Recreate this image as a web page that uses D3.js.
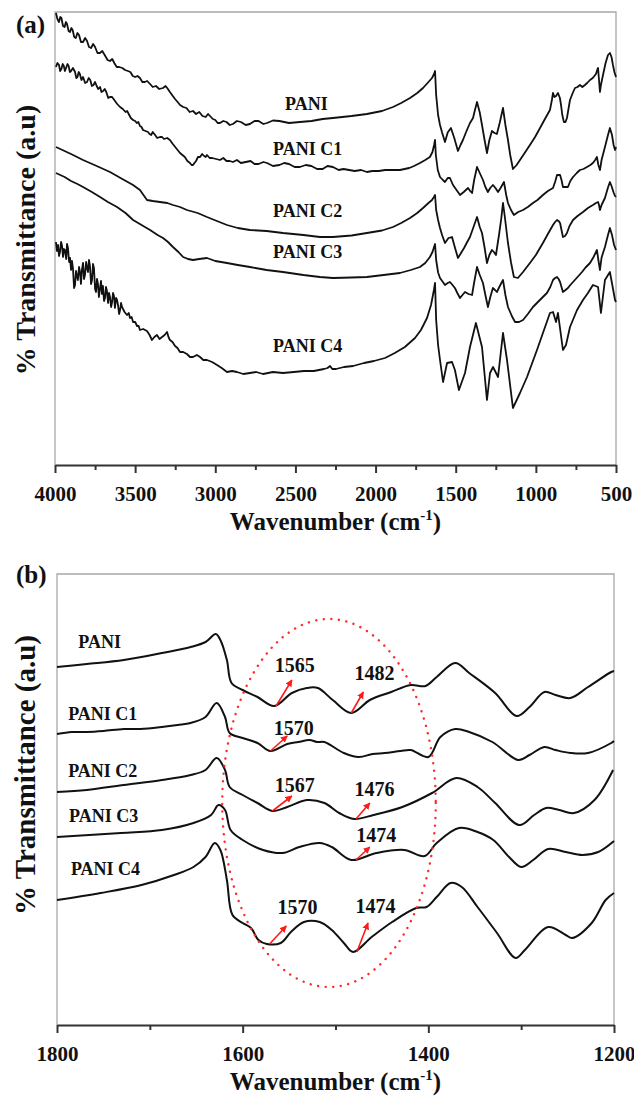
<!DOCTYPE html>
<html><head><meta charset="utf-8">
<script src="https://cdn.jsdelivr.net/npm/d3@7"></script>
<style>
body{margin:0;background:#fff}
text{font-family:"Liberation Serif","Times New Roman",serif;font-weight:bold;fill:#111}
</style>
</head><body>
<svg id="c" width="634" height="1099"></svg>
<script>
// ---------- DATA ----------
const seriesNames = ["PANI", "PANI C1", "PANI C2", "PANI C3", "PANI C4"];

const ticksA = [4000, 3500, 3000, 2500, 2000, 1500, 1000, 500];
const minorTicksA = [3750, 3250, 2750, 2250, 1750, 1250, 750];
const ticksB = [1800, 1600, 1400, 1200];
const minorTicksB = [1700, 1500, 1300];

// Panel (a): [wavenumber cm-1, transmittance a.u.]
const specA_PANI = [[3994,90.4],[3985,89.2],[3975,88.6],[3967,89.6],[3960,89.4],[3950,87.8],[3940,87.6],[3932,88.6],[3925,88.2],[3915,86.8],[3906,86.6],[3898,87.4],[3890,87],[3880,85.6],[3870,85.4],[3860,86.4],[3850,86],[3838,84.6],[3825,84.6],[3812,85.4],[3800,84.8],[3788,83.6],[3775,83.4],[3762,84.2],[3750,83.6],[3735,82.4],[3720,82.4],[3705,82.8],[3690,82],[3672,81],[3657,80.8],[3643,81.2],[3630,80.4],[3615,79.6],[3600,79.6],[3580,79.4],[3563,79],[3545,78.8],[3530,78.6],[3515,77.8],[3500,77.6],[3485,77.8],[3470,77.4],[3455,76.6],[3440,76.6],[3425,76.8],[3407,76.2],[3390,75.6],[3370,75.8],[3350,75.2],[3326,75.4],[3310,75.8],[3300,75.4],[3283,74.6],[3265,73.8],[3251,73.2],[3235,72.6],[3220,72],[3200,71.6],[3180,71.4],[3160,70.6],[3139,70.8],[3120,70.2],[3100,70.6],[3080,69.8],[3060,69.6],[3045,70.2],[3033,69.8],[3015,69.2],[3000,69],[2985,68.4],[2971,68.4],[2950,68.8],[2930,68.6],[2910,68],[2890,68.2],[2865,68.8],[2840,68.6],[2810,68],[2784,68.2],[2755,68.8],[2730,68.8],[2700,68.2],[2677,68.4],[2640,68.9],[2600,68.8],[2540,68.4],[2472,68.6],[2400,68.8],[2330,69.2],[2266,69.4],[2150,69.8],[2054,70.2],[1960,70.8],[1891,71.6],[1840,72.4],[1785,73.4],[1740,74.4],[1704,75.4],[1670,76.6],[1648,77.4],[1635,78.2],[1629,78.8],[1622,74],[1610,70],[1598,68],[1585,66.5],[1567,64.6],[1550,66.5],[1530,67.4],[1510,65.5],[1486,62.8],[1470,64],[1455,65],[1430,67],[1411,68.4],[1392,69.4],[1380,71],[1367,72.6],[1350,70.5],[1336,68],[1320,65],[1305,62.4],[1290,65],[1274,66.8],[1258,66.4],[1243,66.2],[1225,68.5],[1205,71.4],[1190,68],[1174,65],[1160,62],[1143,59.2],[1120,60],[1099,61],[1070,62.4],[1037,64],[1005,65.6],[974,67.4],[940,69.4],[912,71],[900,73],[893,74.4],[884,73.6],[874,73.8],[862,74.4],[850,73.4],[843,72],[835,70],[825,68.6],[815,68.6],[806,69.4],[795,71.5],[787,73],[770,74.4],[756,75.4],[740,75.6],[725,76],[710,75.6],[694,76],[680,76.4],[662,77],[645,77.4],[625,78.2],[615,79.2],[612,79.4],[606,77],[600,74.6],[594,76],[581,78],[565,80.4],[550,82],[538,82.4],[528,81.6],[519,80],[510,78.6],[500,77.6]];

const specA_C1 = [[3994,79.6],[3985,80.4],[3975,80],[3968,78.8],[3960,79.2],[3952,80.2],[3945,79.8],[3938,78.8],[3931,79.4],[3922,80.2],[3915,79.8],[3907,78.6],[3900,78.8],[3888,79.4],[3875,78.6],[3867,77.4],[3860,77.6],[3852,78.6],[3845,78.2],[3835,77],[3825,77.6],[3812,76.4],[3800,76.6],[3790,77.4],[3780,77],[3770,75.8],[3760,76],[3750,76.6],[3740,75.8],[3730,75.2],[3719,75.6],[3710,74.6],[3700,74.8],[3690,75.2],[3680,74.6],[3668,73.4],[3657,73.6],[3644,73.6],[3630,73],[3612,72.2],[3594,71.6],[3577,71.2],[3560,70.6],[3550,70.8],[3540,70.2],[3527,69.4],[3513,69],[3500,68.8],[3490,68.4],[3480,68.6],[3470,67.8],[3460,67.6],[3451,67],[3435,66.8],[3420,66.6],[3410,66.2],[3400,66],[3390,66.6],[3380,66.2],[3362,65.4],[3345,65.6],[3332,65.6],[3320,65.2],[3300,65.4],[3283,65],[3265,64.2],[3250,63.6],[3235,63],[3220,62.4],[3205,62],[3190,61.6],[3174,60.8],[3158,60.4],[3148,60],[3139,60],[3130,60.4],[3120,60.8],[3108,61.6],[3095,61.6],[3082,62.2],[3070,61.8],[3060,61.6],[3052,62],[3035,61.4],[3020,61.4],[2995,61.2],[2971,61],[2950,61.4],[2930,60.8],[2910,60.8],[2890,60.6],[2865,61],[2840,60.4],[2810,60.6],[2780,60.8],[2755,60.2],[2730,60.2],[2700,60.6],[2677,60.4],[2640,59.8],[2600,60],[2570,60.4],[2540,60.2],[2505,59.6],[2472,59.6],[2435,60],[2400,59.8],[2365,59.2],[2330,59.2],[2300,59.8],[2266,59.6],[2230,59],[2200,59.2],[2165,59],[2130,58.8],[2090,59],[2054,58.6],[2020,58.8],[1980,58.8],[1940,59],[1900,59],[1848,59],[1790,59.4],[1760,59.8],[1723,60.4],[1690,61],[1661,61.6],[1645,62.6],[1635,64],[1629,65],[1624,62],[1612,59],[1598,57.6],[1580,57],[1567,56.6],[1550,57.4],[1536,57.4],[1517,56],[1495,55],[1473,54],[1450,54.6],[1423,55.4],[1410,54.8],[1398,54.4],[1385,57],[1367,59.6],[1350,58.4],[1330,57],[1315,55.6],[1299,54.6],[1285,55.4],[1268,56],[1252,55.4],[1236,54.6],[1220,55.4],[1199,56.6],[1185,54],[1174,52.4],[1155,51],[1137,50],[1110,50.6],[1080,51],[1050,51.6],[1018,52.4],[990,53],[956,54],[925,54.8],[893,55.4],[880,56.6],[868,58],[858,58],[849,58],[840,57],[831,55.6],[815,55.6],[800,55.6],[785,56.8],[768,57.6],[745,58.4],[725,59],[703,59.2],[681,59.6],[660,60],[644,60.4],[630,61],[619,61.6],[610,60],[600,59],[590,61],[569,63.6],[550,66],[538,67.4],[525,66],[515,64],[506,63],[500,63.6]];

const specA_C2 = [[3994,63.6],[3900,62.2],[3825,61],[3740,59.8],[3657,58.6],[3580,57.2],[3513,56],[3470,55],[3426,53],[3390,52.8],[3345,52.6],[3300,52.4],[3264,52],[3220,51.6],[3177,51],[3110,50.4],[3052,49.6],[2990,48.8],[2927,48],[2860,47.4],[2784,47],[2680,46.8],[2578,46.4],[2450,46],[2347,45.6],[2266,45.6],[2150,45.9],[2054,46.4],[1960,46.9],[1891,47.6],[1840,48.4],[1785,49.4],[1740,50.4],[1704,51.4],[1670,52.4],[1648,53],[1636,53.6],[1629,54],[1622,51],[1610,49],[1598,47.4],[1585,46],[1567,44.4],[1545,45.4],[1523,45.6],[1505,43.5],[1486,41.4],[1465,42.5],[1448,43.4],[1430,44.5],[1411,45.6],[1390,47.5],[1367,49.6],[1350,47.6],[1336,46.4],[1320,43.5],[1305,40.4],[1290,42],[1274,43],[1262,42.6],[1249,42],[1230,46],[1215,49.5],[1205,52.4],[1195,50],[1174,44.4],[1155,40.5],[1137,37.6],[1112,37.4],[1080,38.6],[1037,40.4],[1000,42],[956,44.4],[925,46.2],[893,48],[880,48.6],[868,49],[858,48.8],[849,48.4],[840,47],[831,45.6],[818,45.8],[806,46.4],[790,47.8],[768,49],[740,49.8],[706,50.6],[675,51.4],[644,52],[625,52.4],[612,52.6],[606,52],[600,51],[590,52],[569,53.4],[550,55.5],[538,56.6],[528,55.8],[515,54.5],[506,53.8],[500,53.6]];

const specA_C3 = [[3994,58.4],[3940,57.6],[3900,56.8],[3860,56.2],[3825,55.6],[3770,54.6],[3719,53.6],[3670,52.6],[3613,51.6],[3560,50.4],[3513,49],[3460,48],[3407,47],[3360,46],[3326,45.4],[3295,44.6],[3264,43.6],[3230,42.6],[3201,41.6],[3170,41.2],[3139,41],[3100,41.2],[3052,41.4],[3000,40.8],[2927,40.4],[2860,40],[2784,39.6],[2680,39],[2578,38.6],[2450,38],[2347,37.6],[2266,37.4],[2150,37.5],[2054,37.6],[1950,38],[1848,38.4],[1780,39],[1723,39.6],[1690,40.4],[1661,41.6],[1645,42.6],[1635,43.6],[1629,44.2],[1622,41],[1610,38.5],[1598,37.4],[1580,36.6],[1567,36],[1550,36.4],[1536,36.6],[1520,36],[1505,35.4],[1490,34.4],[1473,33.4],[1458,34],[1442,34.6],[1420,34.2],[1398,34],[1385,36.5],[1367,39.6],[1350,38],[1330,36.4],[1315,34],[1299,31.6],[1285,33.5],[1268,35.4],[1255,35],[1243,34.6],[1225,35.8],[1205,37],[1190,34],[1174,31.6],[1150,29.8],[1130,28.6],[1105,28.6],[1080,29],[1050,30.2],[1018,31.6],[975,33],[931,34.4],[910,35.6],[893,37],[880,37.4],[868,37.6],[858,37.2],[849,36.6],[840,35.6],[831,34.6],[815,35],[800,35.4],[785,36],[768,36.6],[740,37.6],[712,38.6],[690,39.5],[662,40.4],[640,41.6],[619,43],[610,41],[600,39],[590,41.5],[569,43.6],[550,46],[538,47.4],[525,46],[512,44],[500,43]];

const specA_C4 = [[3994,44.6],[3988,42.8],[3981,44],[3975,41.8],[3969,42.6],[3962,44.6],[3956,43.8],[3950,41.6],[3944,43.2],[3938,43],[3930,41.2],[3925,44.2],[3919,43.4],[3912,40.6],[3906,41.4],[3900,39],[3894,40.8],[3888,39.4],[3881,35.4],[3875,36],[3869,38.8],[3863,37.8],[3857,37],[3850,39.6],[3844,38.6],[3838,36.2],[3832,39],[3825,40.4],[3819,37.2],[3813,38],[3806,40.6],[3800,39.4],[3794,38.6],[3788,41],[3782,39.8],[3775,36.2],[3769,37],[3763,40.2],[3757,39.4],[3750,35.2],[3744,34.6],[3738,37.2],[3732,36.2],[3726,33.6],[3719,35.4],[3713,36.8],[3707,34.2],[3701,35.8],[3694,32.8],[3688,33.4],[3682,35.6],[3676,34.8],[3669,32.4],[3663,34.4],[3657,33.6],[3650,31.6],[3644,32.6],[3638,34.4],[3632,33.8],[3626,31.4],[3619,33.4],[3613,33],[3607,32],[3600,30.2],[3594,31],[3588,32.4],[3582,31.6],[3566,30.6],[3551,30],[3540,30.4],[3532,29.4],[3522,29.6],[3513,28.6],[3500,28.6],[3488,27.8],[3478,27.8],[3470,27],[3450,27.2],[3426,26.8],[3410,26],[3395,25],[3380,25.6],[3364,26],[3348,25.2],[3332,25.6],[3316,26],[3301,26.6],[3292,25.6],[3283,25],[3267,24.6],[3251,23.8],[3236,23.4],[3220,22.6],[3200,22.6],[3177,22.2],[3158,21.6],[3139,21.6],[3115,22],[3095,21.6],[3075,21],[3052,21],[3020,20.6],[2989,20],[2960,19.4],[2927,18.6],[2895,18.8],[2865,18.6],[2825,18.2],[2784,18.4],[2745,18.6],[2702,18.2],[2640,18.6],[2578,18.4],[2510,18.6],[2447,18.8],[2385,18.8],[2322,19.2],[2300,19.4],[2284,19.8],[2270,19.2],[2247,19.2],[2197,19.6],[2140,19.8],[2072,20.4],[2010,20.8],[1941,21.4],[1880,22.4],[1817,23.6],[1754,25.4],[1717,27],[1679,29.4],[1654,32],[1636,35],[1629,36.4],[1622,29],[1610,24],[1598,21],[1579,16.6],[1554,20.4],[1523,20.6],[1505,19],[1480,15],[1442,18.4],[1411,23.6],[1374,28.4],[1336,23.6],[1305,13],[1286,18.4],[1267,19.6],[1236,17.6],[1205,26.4],[1180,21],[1143,11.4],[1099,14.4],[1055,17.6],[993,23],[912,30.4],[893,30.6],[874,28.6],[862,30.4],[831,23],[812,24],[787,27.6],[743,31],[706,33],[675,34.4],[644,36],[612,35.6],[594,30.4],[569,37],[538,38.6],[506,33],[500,32.6]];

// Panel (b): [wavenumber cm-1, transmittance a.u.]
const specB_PANI = [[1800,71.6],[1768,72.2],[1728,73],[1687,74.4],[1656,75.6],[1640,76.6],[1629,78.2],[1624,77],[1617,73],[1612,68.4],[1600,67],[1584,65.6],[1566,63.8],[1547,66.4],[1531,67.4],[1519,67.4],[1503,65],[1483,62.4],[1463,65],[1440,66.6],[1419,68],[1403,67.8],[1391,69.6],[1371,72.4],[1356,70.4],[1328,66.4],[1305,61.8],[1291,63.6],[1275,66.6],[1263,66],[1247,65.4],[1228,67.6],[1203,70.6],[1200,70.8]];
const specB_C1 = [[1800,58.2],[1784,58.6],[1768,58.6],[1750,58.8],[1728,59.2],[1710,59.2],[1687,59.6],[1670,60],[1656,60.4],[1640,61.6],[1628,64.4],[1619,61.6],[1614,58.4],[1600,57.4],[1584,56.4],[1570,54.8],[1552,56.2],[1540,56.6],[1528,57],[1520,56.6],[1512,56.6],[1491,54.4],[1475,53.6],[1460,54.2],[1447,54.4],[1430,54.8],[1419,55],[1400,53.6],[1387,57.6],[1371,59.2],[1356,58.6],[1331,56.6],[1303,53],[1291,54],[1275,55.6],[1263,55],[1247,54.4],[1228,54.4],[1203,56.4],[1200,56.8]];
const specB_C2 = [[1800,46.6],[1768,47],[1728,48],[1687,49],[1656,50],[1640,51],[1628,53.4],[1619,51],[1614,47.6],[1600,46],[1584,44.4],[1568,42.8],[1552,43.6],[1531,45],[1512,44.4],[1496,42.4],[1480,41.2],[1459,42],[1428,43.6],[1396,46.4],[1370,49.4],[1347,47.6],[1328,44.4],[1302,40],[1286,42],[1273,43.4],[1259,43],[1243,42.4],[1221,45],[1201,51]];
const specB_C3 = [[1800,37.6],[1731,38.4],[1687,39],[1653,40.4],[1634,42],[1626,44],[1619,43],[1613,39],[1600,37],[1578,35],[1557,34.4],[1539,35.6],[1517,36.4],[1504,35.6],[1483,33],[1456,34.4],[1426,35],[1404,33.8],[1391,36.4],[1367,39.4],[1347,38.6],[1330,37],[1313,33.6],[1300,31.6],[1287,33],[1271,35.2],[1252,34.6],[1234,34],[1217,34.6],[1200,36.8]];
const specB_C4 = [[1800,25],[1753,26.4],[1709,28],[1674,30],[1653,31.6],[1640,33.6],[1630,36.4],[1624,35],[1617,29],[1611,22],[1600,20.4],[1591,19.4],[1583,17],[1574,16.2],[1559,16.4],[1548,18.6],[1534,20.6],[1517,20.6],[1504,19],[1491,16.4],[1481,14.6],[1461,17.6],[1439,20.6],[1413,23.4],[1402,23.6],[1391,25.6],[1376,28.4],[1364,27.6],[1347,23.6],[1326,18.4],[1306,13.4],[1296,15],[1271,19.6],[1252,18],[1245,17.4],[1224,20.4],[1209,25],[1200,26.4]];

// Peak annotations in panel (b)
const peakLabels = ["1565", "1482", "1570", "1567", "1476", "1474", "1570", "1474"];
const peakTails = [[1564,63.8],[1483,62.4],[1570,54.8],[1568,42.8],[1478,41.2],[1478,33],[1571,16.2],[1477,14.6]];
const peakHeads = [[1547,69],[1470,66.6],[1552,57.8],[1547,45.8],[1463,44.4],[1463,35.6],[1553,19.8],[1465,20.4]];
const peakTextAt = [[1544,70.6],[1458,69],[1545,58],[1544,46.6],[1458,45.8],[1456,36.6],[1541,22.2],[1457,22.4]];

// series label anchors (left edge, baseline) in data units
const labelAtA = [[2565,71],[2640,62],[2640,49.6],[2640,41.4],[2640,22.6]];
const labelAtB = [[1777,75.4],[1788,61],[1788,49.6],[1787,40.6],[1785,30]];

// highlighted region ellipse in panel (b): centre wn, centre a.u., half width wn, half height a.u.
const ellipseB = [1507, 44.4, 115, 36.8];

// ---------- DRAW ----------
const FONT = '"Liberation Serif","Times New Roman",serif';
const svg = d3.select("#c");
const defs = svg.append("defs");
defs.append("marker").attr("id","arr").attr("viewBox","0 0 10 10")
  .attr("refX",9).attr("refY",5).attr("markerWidth",7).attr("markerHeight",7)
  .attr("markerUnits","userSpaceOnUse").attr("orient","auto")
  .append("path").attr("d","M0,0 L10,5 L0,10 z").attr("fill","#ff1a1a");

function drawPanel(o) {
  const x = d3.scaleLinear().domain(o.xDomain).range([o.left, o.right]);
  const y = d3.scaleLinear().domain(o.yDomain).range([o.bottom, o.top]);
  const g = svg.append("g");
  g.append("path")
    .attr("d", `M${o.left},${o.bottom} V${o.top} H${o.right} V${o.bottom}`)
    .attr("fill","none").attr("stroke","#a8a8a8").attr("stroke-width",1.3);
  const line = d3.line().x(d => x(d[0])).y(d => y(d[1])).curve(o.curve);
  o.series.forEach(s => {
    g.append("path").datum(s).attr("d", line)
      .attr("fill","none").attr("stroke","#111").attr("stroke-width",o.lw)
      .attr("stroke-linejoin","round");
  });
  seriesNames.forEach((n, i) => {
    g.append("text").attr("x", x(o.labels[i][0])).attr("y", y(o.labels[i][1]))
      .attr("font-size", 18).text(n);
  });
  const ax = g.append("g").attr("transform", `translate(0,${o.bottom})`)
    .call(d3.axisBottom(x).tickValues(o.ticks).tickSize(8).tickSizeOuter(0).tickFormat(d3.format("d")));
  ax.attr("font-family", FONT);
  ax.select(".domain").attr("stroke","#333").attr("stroke-width",2);
  ax.selectAll(".tick line").attr("stroke","#333").attr("stroke-width",2);
  ax.selectAll(".tick text").attr("y", 21).attr("font-size", 21)
    .attr("font-family", FONT).attr("font-weight","bold").attr("fill","#111");
  const mx = g.append("g").attr("transform", `translate(0,${o.bottom})`)
    .call(d3.axisBottom(x).tickValues(o.minor).tickSize(5).tickFormat(""));
  mx.select(".domain").remove();
  mx.selectAll(".tick line").attr("stroke","#333").attr("stroke-width",2);
  const t = g.append("text").attr("x", (o.left + o.right)/2).attr("y", o.xTitleY)
    .attr("text-anchor","middle").attr("font-size", 25);
  t.append("tspan").text("Wavenumber (cm");
  t.append("tspan").attr("font-size", 15).attr("dy", -10).text("-1");
  t.append("tspan").attr("dy", 10).text(")");
  g.append("text").attr("transform", `translate(35,${o.yTitleY}) rotate(-90)`)
    .attr("text-anchor","middle").attr("font-size", o.yTitleSize).text("% Transmittance (a.u)");
  g.append("text").attr("x", 16).attr("y", o.tagY).attr("font-size", 25).text(o.tag);
  return {x, y, g};
}

const A = drawPanel({
  xDomain:[4000,500], yDomain:[0,90.6], left:55, right:616, top:12, bottom:465,
  series:[specA_PANI, specA_C1, specA_C2, specA_C3, specA_C4], curve:d3.curveLinear, lw:1.8,
  labels:labelAtA, ticks:ticksA, minor:minorTicksA, xTitleY:530, yTitleY:240, yTitleSize:28,
  tag:"(a)", tagY:33
});

const B = drawPanel({
  xDomain:[1800,1200], yDomain:[0,90.2], left:57, right:614, top:574, bottom:1025,
  series:[specB_PANI, specB_C1, specB_C2, specB_C3, specB_C4], curve:d3.curveCatmullRom.alpha(0.5), lw:2,
  labels:labelAtB, ticks:ticksB, minor:minorTicksB, xTitleY:1090, yTitleY:775, yTitleSize:29,
  tag:"(b)", tagY:583
});

B.g.append("ellipse")
  .attr("cx", B.x(ellipseB[0])).attr("cy", B.y(ellipseB[1]))
  .attr("rx", Math.abs(B.x(ellipseB[0] - ellipseB[2]) - B.x(ellipseB[0])))
  .attr("ry", Math.abs(B.y(ellipseB[1] + ellipseB[3]) - B.y(ellipseB[1])))
  .attr("fill","none").attr("stroke","#ff2a2a").attr("stroke-width",2.4)
  .attr("stroke-linecap","round").attr("stroke-dasharray","0.1 7.5");

peakLabels.forEach((lab, i) => {
  B.g.append("line")
    .attr("x1", B.x(peakTails[i][0])).attr("y1", B.y(peakTails[i][1]))
    .attr("x2", B.x(peakHeads[i][0])).attr("y2", B.y(peakHeads[i][1]))
    .attr("stroke","#ff1a1a").attr("stroke-width",1.6).attr("marker-end","url(#arr)");
  B.g.append("text").attr("x", B.x(peakTextAt[i][0])).attr("y", B.y(peakTextAt[i][1]))
    .attr("text-anchor","middle").attr("font-size", 20).text(lab);
});
</script>
</body></html>
